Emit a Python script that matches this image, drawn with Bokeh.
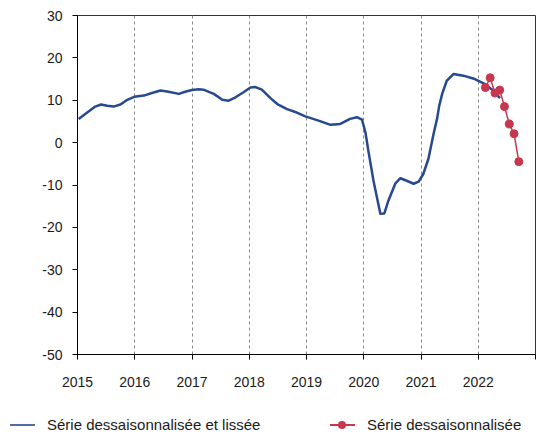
from bokeh.plotting import figure
from bokeh.layouts import column
from bokeh.models import FixedTicker, ColumnDataSource, Range1d, Div
from bokeh.embed import file_html
from bokeh.resources import INLINE

# Smoothed seasonally adjusted series (decimal years, values)
smooth_t = [2015.02, 2015.17, 2015.31, 2015.41, 2015.52, 2015.63, 2015.75, 2015.87,
            2015.99, 2016.16, 2016.30, 2016.45, 2016.59, 2016.77, 2016.88, 2017.00,
            2017.12, 2017.20, 2017.38, 2017.53, 2017.64, 2017.76, 2017.90, 2018.02,
            2018.11, 2018.22, 2018.37, 2018.49, 2018.66, 2018.83, 2018.98, 2019.21,
            2019.42, 2019.59, 2019.76, 2019.88, 2019.97, 2020.03, 2020.08, 2020.17,
            2020.29, 2020.36, 2020.43, 2020.55, 2020.64, 2020.75, 2020.87, 2020.96,
            2021.04, 2021.13, 2021.22, 2021.28, 2021.32, 2021.37, 2021.45, 2021.57,
            2021.74, 2021.94, 2022.12, 2022.26, 2022.38]
smooth_v = [5.6, 7.1, 8.5, 9.0, 8.7, 8.5, 9.0, 10.1,
            10.8, 11.1, 11.7, 12.3, 12.0, 11.5, 12.0, 12.4,
            12.6, 12.5, 11.5, 10.1, 9.9, 10.7, 11.9, 13.0,
            13.1, 12.5, 10.5, 9.1, 7.9, 7.1, 6.2, 5.2,
            4.2, 4.4, 5.6, 6.0, 5.4, 2.4, -1.9, -9.0,
            -16.8, -16.7, -13.7, -9.7, -8.4, -9.0, -9.7, -9.2,
            -7.4, -3.8, 2.1, 5.6, 8.8, 11.5, 14.6, 16.2,
            15.8, 15.0, 13.8, 12.3, 10.5]

# Seasonally adjusted series, monthly Feb..Sep 2022 (mid-month)
sa_t = [2022.125, 2022.208, 2022.292, 2022.375, 2022.458, 2022.542, 2022.625, 2022.708]
sa_v = [13.0, 15.3, 11.7, 12.4, 8.5, 4.4, 2.1, -4.5]

year_ticks = [2015, 2016, 2017, 2018, 2019, 2020, 2021, 2022, 2023]
y_ticks = [-50, -40, -30, -20, -10, 0, 10, 20, 30]
series_labels = ["Série dessaisonnalisée et lissée", "Série dessaisonnalisée"]

BLUE = "#27498F"
RED = "#C8374F"
FONT = "Liberation Sans"

p = figure(width=545, height=395, output_backend="svg", toolbar_location=None,
           x_range=Range1d(2015, 2023), y_range=Range1d(-50, 30),
           min_border_left=77, min_border_right=10, min_border_top=15,
           min_border_bottom=41)

p.outline_line_color = "#333333"
p.outline_line_width = 1
p.background_fill_color = "white"
p.border_fill_color = "white"

s1 = ColumnDataSource(dict(x=smooth_t, y=smooth_v))
s2 = ColumnDataSource(dict(x=sa_t, y=sa_v))
p.line("x", "y", source=s1, line_color=BLUE, line_width=2.5, line_join="round")
p.line("x", "y", source=s2, line_color=RED, line_width=1.5)
p.scatter("x", "y", source=s2, size=8, fill_color=RED, line_color=RED)

# axes
p.xaxis.ticker = FixedTicker(ticks=year_ticks)
p.xaxis.major_label_overrides = {2023: ""}
p.yaxis.ticker = FixedTicker(ticks=y_ticks)
p.yaxis.major_label_overrides = {t: str(t) for t in y_ticks}
for ax in (p.xaxis[0], p.yaxis[0]):
    ax.axis_line_color = "black"
    ax.major_tick_line_color = "black"
    ax.major_tick_out = 5
    ax.major_tick_in = 0
    ax.minor_tick_line_color = None
    ax.major_label_text_font = FONT
    ax.major_label_text_font_size = "14px"
    ax.major_label_text_color = "#1a1a1a"
p.xaxis.major_label_standoff = 17
p.yaxis.major_label_standoff = 10

p.xgrid.ticker = FixedTicker(ticks=year_ticks[1:-1])
p.xgrid.grid_line_color = "#888888"
p.xgrid.grid_line_dash = "3 3"
p.xgrid.grid_line_width = 1
p.ygrid.grid_line_color = None

# legend strip (HTML) below the chart
legend_html = f"""
<div style="position:relative;width:545px;height:40px;font-family:'{FONT}';font-size:15px;color:#1a1a1a;">
  <span style="position:absolute;left:10px;top:29px;width:25px;height:2px;background:{BLUE};opacity:0.8;"></span>
  <span style="position:absolute;left:47px;top:21px;line-height:17px;white-space:nowrap;">{series_labels[0]}</span>
  <span style="position:absolute;left:330px;top:29px;width:25px;height:2px;background:{RED};"></span>
  <span style="position:absolute;left:338px;top:26px;width:8px;height:8px;border-radius:50%;background:{RED};"></span>
  <span style="position:absolute;left:367px;top:21px;line-height:17px;white-space:nowrap;">{series_labels[1]}</span>
</div>
"""
leg = Div(text=legend_html, width=545, height=40, margin=0)

open("out.html", "w").write(file_html(column(p, leg, spacing=0), INLINE))
